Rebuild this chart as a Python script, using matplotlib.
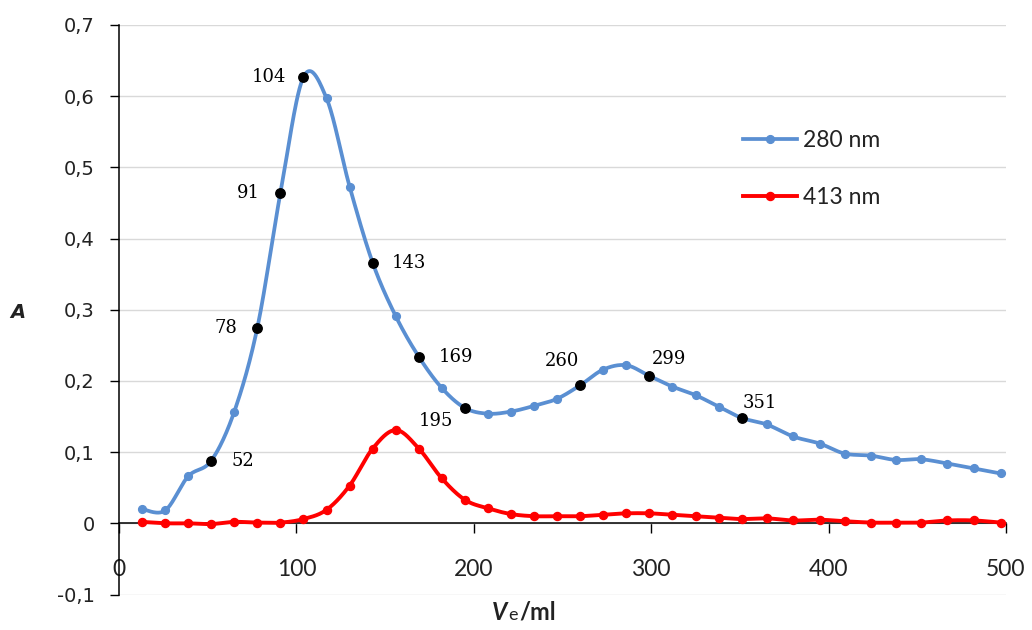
import numpy as np
import matplotlib
matplotlib.use("Agg")
import matplotlib.pyplot as plt
from matplotlib.ticker import FuncFormatter
from matplotlib.offsetbox import TextArea, HPacker, AnnotationBbox
from matplotlib.lines import Line2D

# Elution volume of each fraction (ml)
volume = [13, 26, 39, 52, 65, 78, 91, 104, 117, 130, 143, 156, 169, 182, 195,
          208, 221, 234, 247, 260, 273, 286, 299, 312, 325, 338, 351, 365, 380,
          395, 409, 424, 438, 452, 467, 482, 497]

# Absorbance at 280 nm
a280 = [0.020, 0.018, 0.066, 0.088, 0.157, 0.275, 0.464, 0.627, 0.597, 0.473,
        0.366, 0.291, 0.234, 0.190, 0.162, 0.154, 0.157, 0.165, 0.175, 0.194,
        0.216, 0.222, 0.207, 0.192, 0.180, 0.164, 0.148, 0.139, 0.122, 0.112,
        0.098, 0.095, 0.089, 0.090, 0.084, 0.077, 0.070]

# Absorbance at 413 nm
a413 = [0.002, 0.000, 0.000, -0.001, 0.002, 0.001, 0.001, 0.006, 0.019, 0.053,
        0.105, 0.131, 0.105, 0.063, 0.033, 0.021, 0.013, 0.010, 0.010, 0.010,
        0.012, 0.014, 0.014, 0.012, 0.010, 0.008, 0.006, 0.007, 0.004, 0.005,
        0.003, 0.001, 0.001, 0.001, 0.004, 0.004, 0.001]

# Fractions picked out on the 280 nm trace
marked = [52, 78, 91, 104, 143, 169, 195, 260, 299, 351]

series_labels = ["280 nm", "413 nm"]
y_ticks = [-0.1, 0.0, 0.1, 0.2, 0.3, 0.4, 0.5, 0.6, 0.7]
x_ticks = [0, 100, 200, 300, 400, 500]

BLUE = "#5a8fd2"
RED = "#ff0000"
INK = "#222222"

# label placement around each marked point (pixels)
label_offsets = {52: (32, 0), 78: (-31, 0), 91: (-32, 0), 104: (-35, 0),
                 143: (36, 0), 169: (37, 0), 195: (-29, -13), 260: (-18, 24),
                 299: (20, 17), 351: (18, 15)}


def smooth(x, y, n=30):
    """Piecewise cubic Bezier through the points (Catmull-Rom style)."""
    x = np.asarray(x, float)
    y = np.asarray(y, float)
    px = np.concatenate([[x[0]], x, [x[-1]]])
    py = np.concatenate([[y[0]], y, [y[-1]]])
    t = np.linspace(0, 1, n)[:, None]
    pts = []
    for i in range(1, len(px) - 2):
        p0 = np.array([px[i - 1], py[i - 1]])
        p1 = np.array([px[i], py[i]])
        p2 = np.array([px[i + 1], py[i + 1]])
        p3 = np.array([px[i + 2], py[i + 2]])
        c1 = p1 + (p2 - p0) / 6.0
        c2 = p2 - (p3 - p1) / 6.0
        seg = ((1 - t) ** 3) * p1 + 3 * ((1 - t) ** 2) * t * c1 \
            + 3 * (1 - t) * t ** 2 * c2 + t ** 3 * p2
        pts.append(seg if i == 1 else seg[1:])
    pts = np.vstack(pts)
    return pts[:, 0], pts[:, 1]


fig = plt.figure(figsize=(10.32, 6.3), dpi=100)
ax = fig.add_axes([119 / 1032, 1 - 594.5 / 630, (1006 - 119) / 1032, (594.5 - 25) / 630])

ax.set_xlim(0, 500)
ax.set_ylim(-0.1, 0.7)

# grid
ax.set_yticks(y_ticks)
ax.yaxis.grid(True, color="#d9d9d9", lw=1.0, zorder=0)
ax.set_axisbelow(True)

# spines: left axis plus a horizontal axis at A = 0
for s in ("top", "right"):
    ax.spines[s].set_visible(False)
ax.spines["left"].set_color("black")
ax.spines["left"].set_linewidth(1.1)
ax.spines["bottom"].set_position(("data", 0))
ax.spines["bottom"].set_color("black")
ax.spines["bottom"].set_linewidth(1.1)

ax.set_xticks(x_ticks)
ax.tick_params(axis="x", direction="out", length=7, width=1.0, pad=19,
               labelsize=16.5, labelcolor=INK)
ax.tick_params(axis="y", direction="out", length=6.5, width=1.0, pad=11,
               labelsize=14, labelcolor=INK)
for lab in ax.get_xticklabels():
    lab.set_fontfamily("Lato")
for lab in ax.get_yticklabels():
    lab.set_fontfamily("DejaVu Sans")

ax.yaxis.set_major_formatter(FuncFormatter(lambda v, p: ("%g" % round(v, 1)).replace(".", ",")))

# 280 nm trace
sx, sy = smooth(volume, a280)
ax.plot(sx, sy, color=BLUE, lw=2.7, solid_capstyle="round", zorder=3, clip_on=False)
ax.plot(volume, a280, ls="none", marker="o", ms=5.6, color=BLUE, zorder=4, clip_on=False)

# 413 nm trace
rx, ry = smooth(volume, a413)
ax.plot(rx, ry, color=RED, lw=2.8, solid_capstyle="round", zorder=3, clip_on=False)
ax.plot(volume, a413, ls="none", marker="o", ms=5.8, color=RED, zorder=4, clip_on=False)

# marked fractions
mk_y = [a280[volume.index(v)] for v in marked]
ax.plot(marked, mk_y, ls="none", marker="o", ms=6.8, color="black", zorder=5)
for v, a in zip(marked, mk_y):
    dx, dy = label_offsets[v]
    ax.annotate(str(v), (v, a), xytext=(dx, dy), textcoords="offset pixels",
                ha="center", va="center", fontsize=13, family="DejaVu Serif",
                color="black", zorder=6)

# legend
handles = [Line2D([], [], color=BLUE, lw=2.7, marker="o", ms=5.6),
           Line2D([], [], color=RED, lw=2.8, marker="o", ms=5.8)]
leg = ax.legend(handles, series_labels, loc="upper left",
                bbox_to_anchor=(743 / 1032, 1 - 130 / 630),
                bbox_transform=fig.transFigure, frameon=False,
                handlelength=2.35, handletextpad=0.25, labelspacing=1.58,
                borderpad=0, borderaxespad=0,
                prop={"family": "Lato", "size": 16.5})
for t in leg.get_texts():
    t.set_color(INK)

# axis titles
fig.text(18 / 1032, 1 - 313 / 630, "A", fontsize=14, fontweight="bold",
         fontstyle="italic", family="DejaVu Sans", ha="center", va="center",
         color=INK)

parts = HPacker(children=[
    TextArea("V", textprops=dict(fontsize=17, fontweight="bold", fontstyle="italic",
                                 family="Lato", color=INK)),
    TextArea("e", textprops=dict(fontsize=13, family="Lato", color=INK)),
    TextArea("/ml", textprops=dict(fontsize=17, fontweight="bold", family="Lato",
                                   color=INK)),
], align="baseline", pad=0, sep=1)
ab = AnnotationBbox(parts, (524 / 1032, 1 - 612 / 630), xycoords="figure fraction",
                    frameon=False, box_alignment=(0.5, 0.5))
fig.add_artist(ab)

fig.savefig("out.png", dpi=100)
